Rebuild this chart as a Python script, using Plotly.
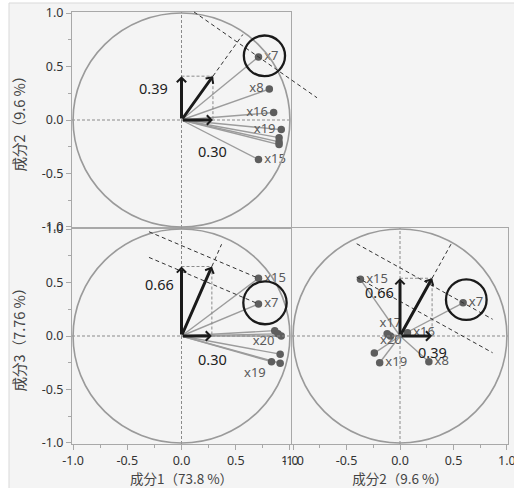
import plotly.graph_objects as go

# ---------------- data ----------------
# Panel A : 成分1 (x) vs 成分2 (y)
a_pc1 = [0.71, 0.81, 0.85, 0.92, 0.90, 0.90, 0.90, 0.71]
a_pc2 = [0.59, 0.29, 0.07, -0.09, -0.165, -0.205, -0.23, -0.37]
a_lab = ["x7", "x8", "x16", "x19", "", "", "", "x15"]

# Panel B : 成分1 (x) vs 成分3 (y)
b_pc1 = [0.71, 0.71, 0.86, 0.89, 0.92, 0.91, 0.83, 0.91]
b_pc3 = [0.54, 0.30, 0.05, 0.02, 0.00, -0.17, -0.24, -0.255]
b_lab = ["x15", "x7", "", "", "", "x20", "x19", ""]

# Panel C : 成分2 (x) vs 成分3 (y)
c_pc2 = [-0.37, 0.59, -0.09, 0.07, -0.24, -0.19, 0.27, -0.12]
c_pc3 = [0.53, 0.31, 0.00, 0.03, -0.16, -0.25, -0.24, 0.02]
c_lab = ["x15", "x7", "x17", "x16", "x20", "x19", "x8", ""]

# weight vectors (drawn) and their labels
a_vec = [0.29, 0.41]
b_vec = [0.28, 0.65]
c_vec = [0.30, 0.54]
a_wlab = ["0.30", "0.39"]
b_wlab = ["0.30", "0.66"]
c_wlab = ["0.39", "0.66"]

tick_vals = [-1.0, -0.5, 0.0, 0.5, 1.0]
tick_text = ["-1.0", "-0.5", "0.0", "0.5", "1.0"]
minor_vals = [-0.75, -0.25, 0.25, 0.75]

x_titles = ["成分1（73.8 %）", "成分2（9.6 %）"]
y_titles = ["成分2（9.6 %）", "成分3（7.76 %）"]

# ---------------- styles ----------------
text_pos_a = ["middle right", "middle left", "middle left", "middle left",
              "middle left", "middle left", "middle left", "middle right"]
text_pos_b = ["middle right", "middle right", "middle left", "middle left",
              "middle left", "top left", "bottom left", "middle left"]
text_pos_c = ["middle right", "middle right", "top center", "middle right",
              "top right", "middle right", "middle right", "middle right"]

RNG = [-1.01, 1.01]
GRAY_LINE = "#9c9c9c"
DOT = "#5e5e5e"
FRAME = "#a8a8a8"

fig = go.Figure()


def dom(v):
    return (v - RNG[0]) / (RNG[1] - RNG[0])


def add_panel(xs, ys, labs, tpos, ax, ay):
    lx, ly = [], []
    for x, y in zip(xs, ys):
        lx += [0, x, None]
        ly += [0, y, None]
    fig.add_trace(go.Scatter(x=lx, y=ly, mode="lines", xaxis=ax, yaxis=ay,
                             line=dict(color=GRAY_LINE, width=1.4),
                             hoverinfo="skip"))
    fig.add_trace(go.Scatter(x=xs, y=ys, mode="markers+text", text=labs,
                             textposition=tpos, xaxis=ax, yaxis=ay,
                             cliponaxis=False,
                             marker=dict(color=DOT, size=7.5),
                             textfont=dict(family="Noto Sans", size=13,
                                           color="#5a5a5a")))


def add_construction(axn, vec, wlab, lab_pos, pts, perp, ext, hl):
    xr = "x" + axn
    yr = "y" + axn
    dx, dy = vec
    # zero reference lines
    fig.add_shape(type="line", xref=xr + " domain", yref=yr + " domain",
                  x0=dom(0), x1=dom(0), y0=0, y1=1,
                  line=dict(color="#8a8a8a", width=1, dash="3px,2px"))
    fig.add_shape(type="line", xref=xr + " domain", yref=yr + " domain",
                  x0=0, x1=1, y0=dom(0), y1=dom(0),
                  line=dict(color="#8a8a8a", width=1, dash="3px,2px"))
    # unit circle
    fig.add_shape(type="circle", xref=xr, yref=yr, x0=-1, y0=-1, x1=1, y1=1,
                  line=dict(color="#9a9a9a", width=1.6))
    # dashed box
    fig.add_shape(type="line", xref=xr, yref=yr, x0=0, y0=dy, x1=dx, y1=dy,
                  line=dict(color="#8a8a8a", width=1, dash="3px,2px"))
    fig.add_shape(type="line", xref=xr, yref=yr, x0=dx, y0=dy, x1=dx, y1=0,
                  line=dict(color="#8a8a8a", width=1, dash="3px,2px"))
    # extension of the weight direction
    fig.add_shape(type="line", xref=xr + " domain", yref=yr + " domain",
                  x0=dom(dx), y0=dom(dy), x1=dom(dx * ext), y1=dom(dy * ext),
                  line=dict(color="#333333", width=1, dash="4px,3px"))
    # perpendicular lines through selected points
    slope = -dx / dy
    for (px, py), (xa, xb) in zip(pts, perp):
        fig.add_shape(type="line", xref=xr + " domain", yref=yr + " domain",
                      x0=dom(xa), y0=dom(py + slope * (xa - px)),
                      x1=dom(xb), y1=dom(py + slope * (xb - px)),
                      line=dict(color="#333333", width=1, dash="4px,3px"))
    # highlight circle
    cx, cy, r = hl
    fig.add_shape(type="circle", xref=xr, yref=yr, x0=cx - r, x1=cx + r,
                  y0=cy - r, y1=cy + r, line=dict(color="#1a1a1a", width=2.3))
    # arrows
    for tx, ty in [(dx, 0), (0, dy), (dx, dy)]:
        fig.add_annotation(x=tx, y=ty, ax=0, ay=0, xref=xr, yref=yr,
                           axref=xr, ayref=yr, showarrow=True, text="",
                           arrowhead=4, arrowsize=0.6, arrowwidth=3,
                           arrowcolor="#1a1a1a")
    # weight labels
    for t, (tx, ty) in zip(wlab, lab_pos):
        fig.add_annotation(x=tx, y=ty, xref=xr, yref=yr, text=t,
                           showarrow=False,
                           font=dict(family="Noto Sans", size=14.5,
                                     color="#222222"))


add_panel(a_pc1, a_pc2, a_lab, text_pos_a, "x", "y")
add_panel(b_pc1, b_pc3, b_lab, text_pos_b, "x2", "y2")
add_panel(c_pc2, c_pc3, c_lab, text_pos_c, "x3", "y3")

add_construction("", a_vec, a_wlab, [(0.29, -0.29), (-0.26, 0.30)],
                 [(a_pc1[0], a_pc2[0])], [(0.115, 1.25)], 1.95,
                 (0.765, 0.60, 0.19))
add_construction("2", b_vec, b_wlab, [(0.29, -0.215), (-0.20, 0.49)],
                 [(b_pc1[0], b_pc3[0]), (b_pc1[1], b_pc3[1])],
                 [(-0.30, b_pc1[0]), (-0.30, b_pc1[1])], 1.32,
                 (0.77, 0.31, 0.20))
add_construction("3", c_vec, c_wlab, [(0.30, -0.15), (-0.19, 0.41)],
                 [(c_pc2[1], c_pc3[1]), (c_pc2[0], c_pc3[0])],
                 [(-0.405, 0.866), (-0.405, 0.866)], 1.62,
                 (0.62, 0.34, 0.19))

# outer light panel
fig.add_shape(type="rect", xref="paper", yref="paper", x0=9 / 514, x1=1.01,
              y0=-0.01, y1=1 - 3 / 488, layer="below",
              fillcolor="#f4f4f4", line=dict(color="#d9d9d9", width=1))

tickfont = dict(family="Noto Sans", size=12.5, color="#333333")
xtitlefont = dict(family="Noto Sans CJK JP", size=13.5, color="#444444")
ytitlefont = dict(family="Noto Sans CJK JP", size=14.5, color="#444444")


def axis(domain, labels=True, title=None, standoff=4, tfont=None):
    d = dict(domain=domain, range=RNG, showgrid=False, zeroline=False,
             showline=True, mirror=True, linecolor=FRAME, linewidth=1,
             fixedrange=True, tickfont=tickfont, automargin=False,
             ticklabeloverflow="allow")
    if labels:
        d.update(tickmode="array", tickvals=tick_vals, ticktext=tick_text,
                 ticks="outside", ticklen=5, tickcolor=FRAME,
                 minor=dict(tickmode="array", tickvals=minor_vals,
                            ticks="outside", ticklen=3, tickcolor=FRAME))
    else:
        d.update(showticklabels=False, ticks="")
    if title:
        d.update(title=dict(text=title, font=tfont, standoff=standoff))
    return d


XL = [72 / 514, 291 / 514]
XR = [292 / 514, 508 / 514]
YT = [1 - 228 / 488, 1 - 12 / 488]
YB = [1 - 444 / 488, 1 - 228 / 488]

fig.update_layout(
    width=514, height=488,
    margin=dict(l=0, r=0, t=0, b=0, autoexpand=False),
    paper_bgcolor="white", plot_bgcolor="white",
    showlegend=False,
    xaxis=dict(axis(XL, labels=False), anchor="y"),
    yaxis=dict(axis(YT, title=y_titles[0], standoff=12, tfont=ytitlefont),
               anchor="x"),
    xaxis2=dict(axis(XL, title=x_titles[0], standoff=2, tfont=xtitlefont),
                anchor="y2"),
    yaxis2=dict(axis(YB, title=y_titles[1], standoff=12, tfont=ytitlefont),
                anchor="x2"),
    xaxis3=dict(axis(XR, title=x_titles[1], standoff=2, tfont=xtitlefont),
                anchor="y3"),
    yaxis3=dict(axis(YB, labels=False), anchor="x3"),
)

fig.write_html("out.html", config={"displayModeBar": False},
               post_script="document.body.style.margin='0';"
                           "document.body.style.overflow='hidden';")
